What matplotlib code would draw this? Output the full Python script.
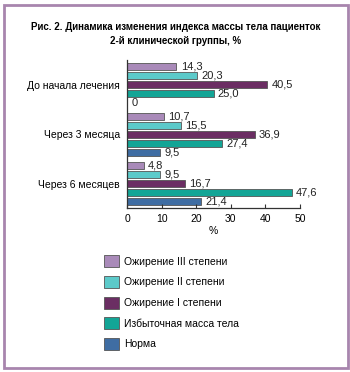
import matplotlib
matplotlib.use("Agg")
import matplotlib.pyplot as plt
from matplotlib.patches import Rectangle

plt.rcParams['font.family'] = ['Liberation Sans', 'DejaVu Sans']

title = "Рис. 2. Динамика изменения индекса массы тела пациенток\n2-й клинической группы, %"
groups = ["До начала лечения", "Через 3 месяца", "Через 6 месяцев"]
series = ["Ожирение III степени", "Ожирение II степени", "Ожирение I степени",
          "Избыточная масса тела", "Норма"]
obesity3 = [14.3, 10.7, 4.8]
obesity2 = [20.3, 15.5, 9.5]
obesity1 = [40.5, 36.9, 16.7]
overweight = [25.0, 27.4, 47.6]
normal = [0, 9.5, 21.4]
values = [obesity3, obesity2, obesity1, overweight, normal]
colors = ["#a98ab9", "#5ccaca", "#6b2e63", "#13a596", "#3f6da3"]
xticks = [0, 10, 20, 30, 40, 50]

W, H = 350, 372
fig = plt.figure(figsize=(W/100, H/100), dpi=100)
fig.patch.set_facecolor("white")
fig.patches.append(Rectangle((3.5/W, 4.5/H), (347.5-3.5)/W, (367.5-4.5)/H,
                             transform=fig.transFigure, fill=False,
                             edgecolor="#a885ae", linewidth=2.0))

ax = fig.add_axes([127/W, 1-208/H, 173/W, 148/H])
gstep = 5.5
handles = []
for j, (vals, c) in enumerate(zip(values, colors)):
    ys = [i*gstep + j for i in range(len(groups))]
    b = ax.barh(ys, vals, height=0.8, color=c, edgecolor="#555555", linewidth=0.6)
    handles.append(b)
    for y, v in zip(ys, vals):
        lab = f"{v:.1f}".replace(".", ",") if v != 0 else "0"
        ax.text(v + 1.2, y, lab, va="center", ha="left", fontsize=8, color="#222222")

ax.set_ylim(2*gstep + 4 + 0.7, -0.75)
ax.set_xlim(0, 50)
ax.set_yticks([i*gstep + 2 for i in range(len(groups))])
ax.set_yticklabels(groups, fontsize=7.5)
ax.tick_params(axis='y', length=0, pad=5)
ax.set_xticks(xticks)
ax.set_xticklabels([str(t) for t in xticks], fontsize=7.5)
ax.tick_params(axis='x', direction='in', length=3, pad=4, color="#333333")
for s in ["top", "right"]:
    ax.spines[s].set_visible(False)
for s in ["left", "bottom"]:
    ax.spines[s].set_color("#333333")
    ax.spines[s].set_linewidth(0.9)
ax.set_xlabel("%", fontsize=7.5, labelpad=2)

fig.text(176/W, 1-34/H, title, ha="center", va="center", fontsize=7,
         fontweight="bold", linespacing=1.45)

fig.legend(handles, series, loc="upper left", bbox_to_anchor=(95/W, 1-246/H),
           frameon=False, fontsize=7.5, handlelength=1.4, handleheight=1.4,
           labelspacing=0.82, handletextpad=0.45)

fig.savefig("out.png", dpi=100)
